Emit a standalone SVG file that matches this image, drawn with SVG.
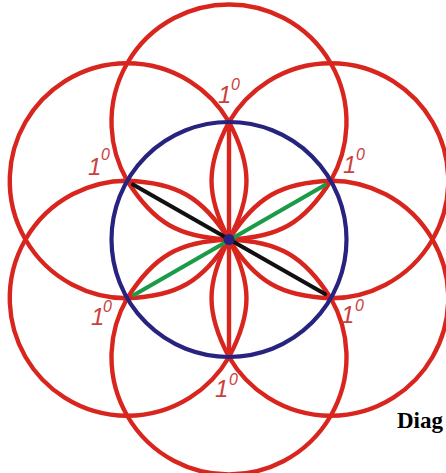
<svg xmlns="http://www.w3.org/2000/svg" width="446" height="473" viewBox="0 0 446 473">
<style>
.red{fill:none;stroke:#d8261f;stroke-width:4.4}
.blue{fill:none;stroke:#27237f;stroke-width:4.2}
.lbl{font-family:"Liberation Sans",Arial,sans-serif;font-style:italic;fill:#c9413c}
.one{font-size:24px}
.sup{font-size:16px}
.cap{font-family:"Liberation Serif","Times New Roman",serif;font-weight:bold;font-size:23px;fill:#000}
</style>
<defs>
<path id="petal" d="M0,0 C44,-23.3 73.5,-23.3 117.5,0 C73.5,23.3 44,23.3 0,0Z"/>
</defs>
<rect width="446" height="473" fill="#fff"/>
<g id="red-circles">
<path id="c-top" class="red" d="M127.24,180.75 A117.5,117.5 0 1 1 330.76,180.75"/>
<path id="c-ur" class="red" d="M229,122 A117.5,117.5 0 1 1 330.76,298.25"/>
<path id="c-lr" class="red" d="M330.76,180.75 A117.5,117.5 0 1 1 229,357"/>
<path id="c-bot" class="red" d="M330.76,298.25 A117.5,117.5 0 1 1 127.24,298.25"/>
<path id="c-ll" class="red" d="M229,357 A117.5,117.5 0 1 1 127.24,180.75"/>
<path id="c-ul" class="red" d="M127.24,298.25 A117.5,117.5 0 1 1 229,122"/>
</g>
<g id="petals" class="red">
<use href="#petal" transform="translate(229 239.5) rotate(-90)"/>
<use href="#petal" transform="translate(229 239.5) rotate(-30)"/>
<use href="#petal" transform="translate(229 239.5) rotate(30)"/>
<use href="#petal" transform="translate(229 239.5) rotate(90)"/>
<use href="#petal" transform="translate(229 239.5) rotate(150)"/>
<use href="#petal" transform="translate(229 239.5) rotate(210)"/>
<line x1="229" y1="122" x2="229" y2="357"/>
</g>
<g id="blue-circle">
<circle class="blue" cx="229" cy="239.5" r="117.5"/>
</g>
<g id="connectors">
<line x1="133" y1="184.5" x2="325" y2="294" stroke="#111" stroke-width="4.2" stroke-linecap="round"/>
<line x1="134" y1="295" x2="325" y2="185" stroke="#1b9a48" stroke-width="4.2" stroke-linecap="round"/>
</g>
<g id="center"><circle cx="229" cy="239.5" r="5.5" fill="#27237f"/></g>
<g id="labels">
<g id="l-top"><text class="lbl one" x="218" y="103">1</text><text class="lbl sup" x="231" y="90">0</text></g>
<g id="l-ur"><text class="lbl one" x="343" y="173">1</text><text class="lbl sup" x="356" y="160">0</text></g>
<g id="l-lr"><text class="lbl one" x="341" y="323">1</text><text class="lbl sup" x="355" y="311">0</text></g>
<g id="l-ll"><text class="lbl one" x="91" y="325">1</text><text class="lbl sup" x="103" y="312">0</text></g>
<g id="l-ul"><text class="lbl one" x="88" y="175">1</text><text class="lbl sup" x="101" y="160">0</text></g>
<g id="l-bot"><text class="lbl one" x="215" y="397">1</text><text class="lbl sup" x="229" y="385">0</text></g>
</g>
<g id="caption"><text class="cap" x="397" y="428">Diag</text></g>
</svg>
